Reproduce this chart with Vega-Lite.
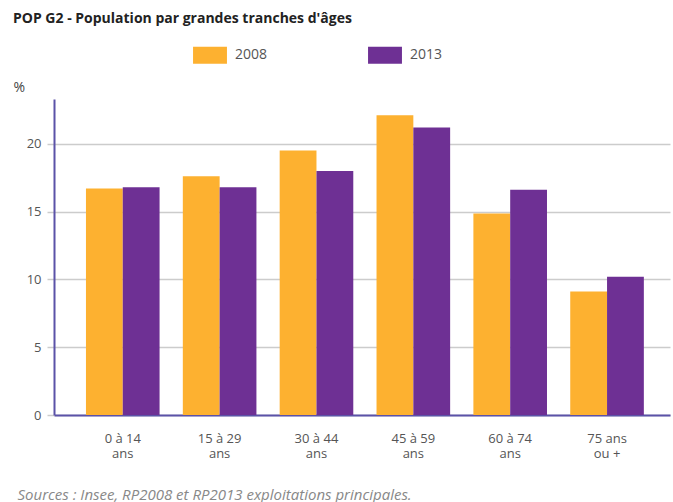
{
  "$schema": "https://vega.github.io/schema/vega-lite/v6.json",
  "width": 616,
  "height": 316,
  "autosize": {"type": "none"},
  "padding": {"left": 54, "top": 99, "right": 3, "bottom": 87},
  "background": "white",
  "title": {
    "text": "POP G2 - Population par grandes tranches d'âges",
    "anchor": "start",
    "frame": "group",
    "dx": -41,
    "dy": -12,
    "font": "Open Sans",
    "fontSize": 14,
    "fontWeight": "bold",
    "color": "#222222",
    "orient": "top",
    "offset": 0
  },
  "data": {
    "values": [
      {"age": "0 à 14|ans", "annee": "2008", "pct": 16.7},
      {"age": "0 à 14|ans", "annee": "2013", "pct": 16.8},
      {"age": "15 à 29|ans", "annee": "2008", "pct": 17.6},
      {"age": "15 à 29|ans", "annee": "2013", "pct": 16.8},
      {"age": "30 à 44|ans", "annee": "2008", "pct": 19.5},
      {"age": "30 à 44|ans", "annee": "2013", "pct": 18.0},
      {"age": "45 à 59|ans", "annee": "2008", "pct": 22.1},
      {"age": "45 à 59|ans", "annee": "2013", "pct": 21.2},
      {"age": "60 à 74|ans", "annee": "2008", "pct": 14.85},
      {"age": "60 à 74|ans", "annee": "2013", "pct": 16.6},
      {"age": "75 ans|ou +", "annee": "2008", "pct": 9.1},
      {"age": "75 ans|ou +", "annee": "2013", "pct": 10.2}
    ]
  },
  "mark": {"type": "bar"},
  "encoding": {
    "x": {
      "field": "age",
      "type": "nominal",
      "sort": null,
      "scale": {"paddingInner": 0.24, "paddingOuter": 0.3, "align": 0.55},
      "axis": {
        "title": "Sources : Insee, RP2008 et RP2013 exploitations principales.",
        "titleFont": "Open Sans",
        "titleFontSize": 15,
        "titleFontStyle": "italic",
        "titleFontWeight": "normal",
        "titleColor": "#888888",
        "titleAnchor": "start",
        "titleAlign": "left",
        "titleX": -37,
        "titleY": 84,
        "titleBaseline": "alphabetic",
        "labelExpr": "split(datum.value, '|')",
        "labelAngle": 0,
        "labelFont": "Open Sans",
        "labelFontSize": 13,
        "labelColor": "#555555",
        "labelLineHeight": 15,
        "labelPadding": 27,
        "labelBaseline": "alphabetic",
        "ticks": false,
        "domainColor": "#5b52a8",
        "domainWidth": 2,
        "grid": false
      }
    },
    "xOffset": {"field": "annee", "type": "nominal"},
    "y": {
      "field": "pct",
      "type": "quantitative",
      "scale": {"domain": [0, 23.3], "nice": false},
      "axis": {
        "title": "%",
        "titleAngle": 0,
        "titleAlign": "left",
        "titleBaseline": "alphabetic",
        "titleX": -41,
        "titleY": -8,
        "titleFont": "Open Sans",
        "titleFontSize": 14,
        "titleFontWeight": "normal",
        "titleColor": "#444444",
        "values": [0, 5, 10, 15, 20],
        "labelFont": "Open Sans",
        "labelFontSize": 13,
        "labelColor": "#555555",
        "labelPadding": 6,
        "tickColor": "#cccccc",
        "tickSize": 7,
        "tickWidth": 1.5,
        "grid": true,
        "gridColor": "#cccccc",
        "gridWidth": 1.5,
        "domainColor": "#5b52a8",
        "domainWidth": 2
      }
    },
    "color": {
      "field": "annee",
      "type": "nominal",
      "scale": {"domain": ["2008", "2013"], "range": ["#fdb130", "#6e3094"]},
      "legend": {
        "title": null,
        "orient": "none",
        "direction": "horizontal",
        "legendX": 139,
        "legendY": -61,
        "symbolType": "M-1,-0.5H1V0.5H-1Z",
        "symbolSize": 1150,
        "symbolStrokeWidth": 0,
        "symbolOpacity": 1,
        "labelFont": "Open Sans",
        "labelFontSize": 14,
        "labelColor": "#555555",
        "labelOffset": 8,
        "columnPadding": 100
      }
    }
  },
  "config": {"view": {"stroke": null}}
}
